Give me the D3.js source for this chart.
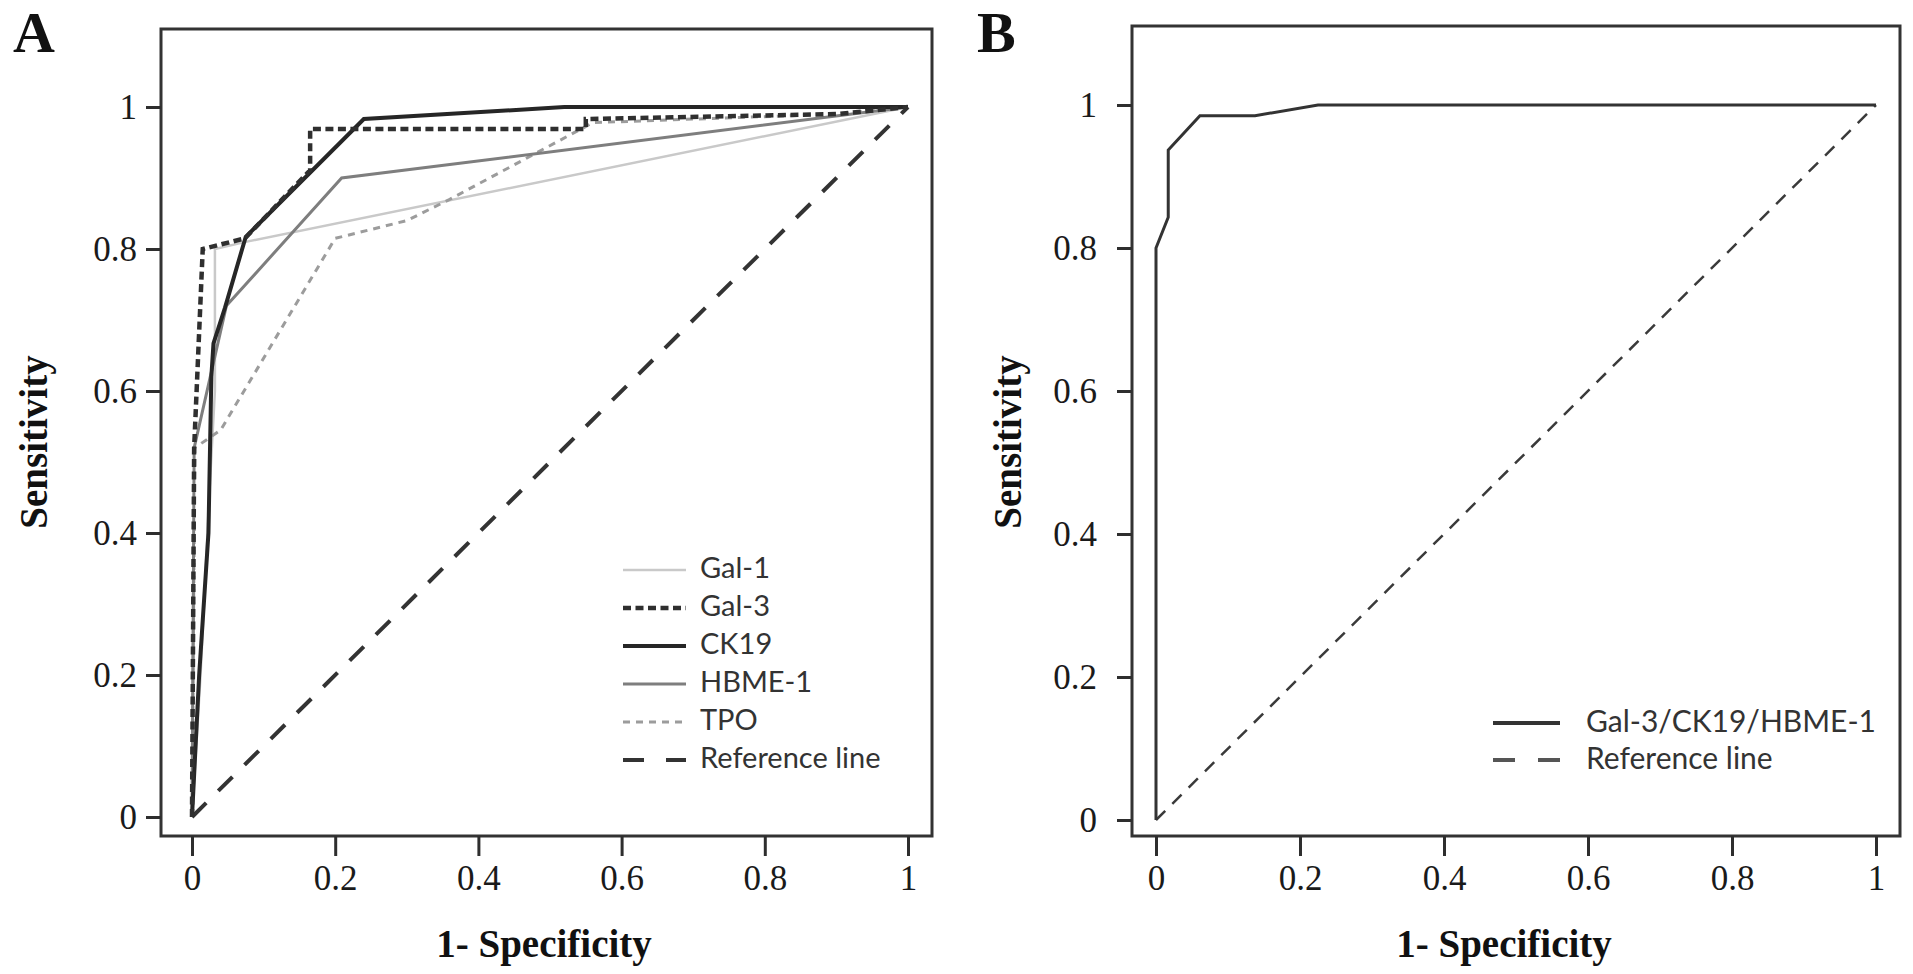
<!DOCTYPE html>
<html>
<head>
<meta charset="utf-8">
<script src="https://cdn.jsdelivr.net/npm/d3@7"></script>
<style>
	body { margin: 0; background: #fff; }
	svg { display: block; }
	.axis text { font-family: 'Liberation Serif', 'Times New Roman', serif; font-size: 35px; fill: #1a1a1a; }
	.axis line { stroke: #2e2e2e; stroke-width: 3px; }
	.axis path { display: none; }
	.frame { fill: none; stroke: #333; stroke-width: 3px; }
	.axis-title { font-family: 'Liberation Serif', 'Times New Roman', serif; font-weight: bold; font-size: 39px; fill: #111; }
	.panel-label { font-family: 'Liberation Serif', 'Times New Roman', serif; font-weight: bold; font-size: 58px; fill: #111; }
	.legend text { font-family: Lato, 'Open Sans', sans-serif; fill: #333; }
	.curve { fill: none; stroke-linejoin: miter; }
</style>
</head>
<body>
<svg id="chart" width="1913" height="974"></svg>
<script>
(function () {
	'use strict';

	// ticks (both panels)
	var xTicks = [0, 0.2, 0.4, 0.6, 0.8, 1],
		yTicks = [0, 0.2, 0.4, 0.6, 0.8, 1];

	// panel A: [1 - specificity, sensitivity]
	var gal1 = [[0, 0], [0.012, 0.2], [0.024, 0.45], [0.032, 0.6], [0.032, 0.8], [0.075, 0.81], [1, 1]],
		gal3 = [[0, 0], [0.003, 0.52], [0.015, 0.8], [0.074, 0.815], [0.165, 0.911], [0.165, 0.969], [0.55, 0.969], [0.55, 0.983], [0.9, 0.99], [1, 1]],
		ck19 = [[0, 0], [0.01, 0.2], [0.023, 0.4], [0.027, 0.62], [0.03, 0.667], [0.046, 0.717], [0.075, 0.817], [0.24, 0.983], [0.52, 1], [1, 1]],
		hbme1 = [[0, 0], [0.003, 0.52], [0.048, 0.72], [0.209, 0.9], [1, 1]],
		tpo = [[0, 0], [0.004, 0.52], [0.04, 0.545], [0.2, 0.815], [0.3, 0.84], [0.36, 0.87], [0.56, 0.978], [0.9, 0.99], [1, 1]],
		refLine = [[0, 0], [1, 1]];

	// panel B
	var combined = [[0, 0], [0, 0.8], [0.017, 0.843], [0.017, 0.937], [0.061, 0.985], [0.1375, 0.985], [0.225, 1], [1, 1]];

	var legendA = ['Gal-1', 'Gal-3', 'CK19', 'HBME-1', 'TPO', 'Reference line'],
		legendB = ['Gal-3/CK19/HBME-1', 'Reference line'];

	var svg = d3.select('#chart');

	var styles = {
		gal1: { stroke: '#c9c9c9', width: 2.5, dash: null },
		gal3: { stroke: '#2f2f2f', width: 4.5, dash: '8,4.5' },
		ck19: { stroke: '#262626', width: 4, dash: null },
		hbme1: { stroke: '#7e7e7e', width: 3, dash: null },
		tpo: { stroke: '#9c9c9c', width: 3, dash: '7,6' },
		refA: { stroke: '#333', width: 4, dash: '20,17' },
		refALegend: { stroke: '#333', width: 4, dash: '21,22' },
		combined: { stroke: '#333', width: 3, dash: null },
		combinedLegend: { stroke: '#333', width: 4, dash: null },
		refB: { stroke: '#3a3a3a', width: 2.5, dash: '13,10' },
		refBLegend: { stroke: '#555', width: 4, dash: '22,23' }
	};

	var drawPanel = function (cfg) {
		var xScale = d3.scaleLinear().domain([0, 1]).range(cfg.xRange),
			yScale = d3.scaleLinear().domain([0, 1]).range(cfg.yRange);

		var g = svg.append('g');

		g.append('rect')
			.attr('class', 'frame')
			.attr('x', cfg.frame[0])
			.attr('y', cfg.frame[1])
			.attr('width', cfg.frame[2] - cfg.frame[0])
			.attr('height', cfg.frame[3] - cfg.frame[1]);

		g.append('g')
			.attr('class', 'axis axis-left')
			.attr('transform', 'translate(' + cfg.frame[0] + ',0)')
			.call(d3.axisLeft(yScale).tickValues(yTicks).tickSize(15).tickPadding(cfg.yPad)
				.tickFormat(function (d) { return String(d); }));

		g.append('g')
			.attr('class', 'axis axis-bottom')
			.attr('transform', 'translate(0,' + cfg.frame[3] + ')')
			.call(d3.axisBottom(xScale).tickValues(xTicks).tickSize(20).tickPadding(9)
				.tickFormat(function (d) { return String(d); }));

		var line = d3.line()
			.x(function (d) { return xScale(d[0]); })
			.y(function (d) { return yScale(d[1]); });

		cfg.series.forEach(function (s) {
			g.append('path')
				.datum(s.data)
				.attr('class', 'curve')
				.attr('d', line)
				.attr('stroke', s.style.stroke)
				.attr('stroke-width', s.style.width)
				.attr('stroke-dasharray', s.style.dash);
		});

		// titles
		g.append('text')
			.attr('class', 'axis-title')
			.attr('text-anchor', 'middle')
			.attr('transform', 'translate(' + cfg.yTitle[0] + ',' + cfg.yTitle[1] + ') rotate(-90)')
			.attr('dy', '0.35em')
			.text('Sensitivity');

		g.append('text')
			.attr('class', 'axis-title')
			.attr('text-anchor', 'middle')
			.attr('x', cfg.xTitle[0])
			.attr('y', cfg.xTitle[1])
			.attr('dy', '0.35em')
			.text('1- Specificity');

		g.append('text')
			.attr('class', 'panel-label')
			.attr('x', cfg.label[1])
			.attr('y', cfg.label[2])
			.text(cfg.label[0]);

		// legend
		var lg = g.append('g').attr('class', 'legend');
		cfg.legend.forEach(function (item, i) {
			var y = cfg.legendPos.y + i * cfg.legendPos.step;
			lg.append('line')
				.attr('x1', cfg.legendPos.x1)
				.attr('x2', cfg.legendPos.x2)
				.attr('y1', y)
				.attr('y2', y)
				.attr('stroke', item.style.stroke)
				.attr('stroke-width', item.style.width)
				.attr('stroke-dasharray', item.style.dash);
			lg.append('text')
				.attr('x', cfg.legendPos.tx)
				.attr('y', y - 2)
				.attr('dy', '0.35em')
				.style('font-size', cfg.legendPos.size + 'px')
				.text(item.name);
		});
	};

	drawPanel({
		frame: [161, 29, 932, 836],
		xRange: [192, 908],
		yRange: [817, 107],
		yPad: 9,
		yTitle: [33, 442],
		xTitle: [544, 943],
		label: ['A', 13, 52],
		series: [
			{ data: refLine, style: styles.refA },
			{ data: gal1, style: styles.gal1 },
			{ data: tpo, style: styles.tpo },
			{ data: hbme1, style: styles.hbme1 },
			{ data: ck19, style: styles.ck19 },
			{ data: gal3, style: styles.gal3 }
		],
		legend: [
			{ name: legendA[0], style: styles.gal1 },
			{ name: legendA[1], style: styles.gal3 },
			{ name: legendA[2], style: styles.ck19 },
			{ name: legendA[3], style: styles.hbme1 },
			{ name: legendA[4], style: styles.tpo },
			{ name: legendA[5], style: styles.refALegend }
		],
		legendPos: { x1: 623, x2: 686, tx: 700, y: 570, step: 38, size: 29 }
	});

	drawPanel({
		frame: [1132, 26, 1900, 836],
		xRange: [1156, 1876],
		yRange: [820, 105],
		yPad: 20,
		yTitle: [1007, 442],
		xTitle: [1504, 943],
		label: ['B', 977, 52],
		series: [
			{ data: refLine, style: styles.refB },
			{ data: combined, style: styles.combined }
		],
		legend: [
			{ name: legendB[0], style: styles.combinedLegend },
			{ name: legendB[1], style: styles.refBLegend }
		],
		legendPos: { x1: 1493, x2: 1560, tx: 1586, y: 723, step: 37, size: 30 }
	});
}());
</script>
</body>
</html>
